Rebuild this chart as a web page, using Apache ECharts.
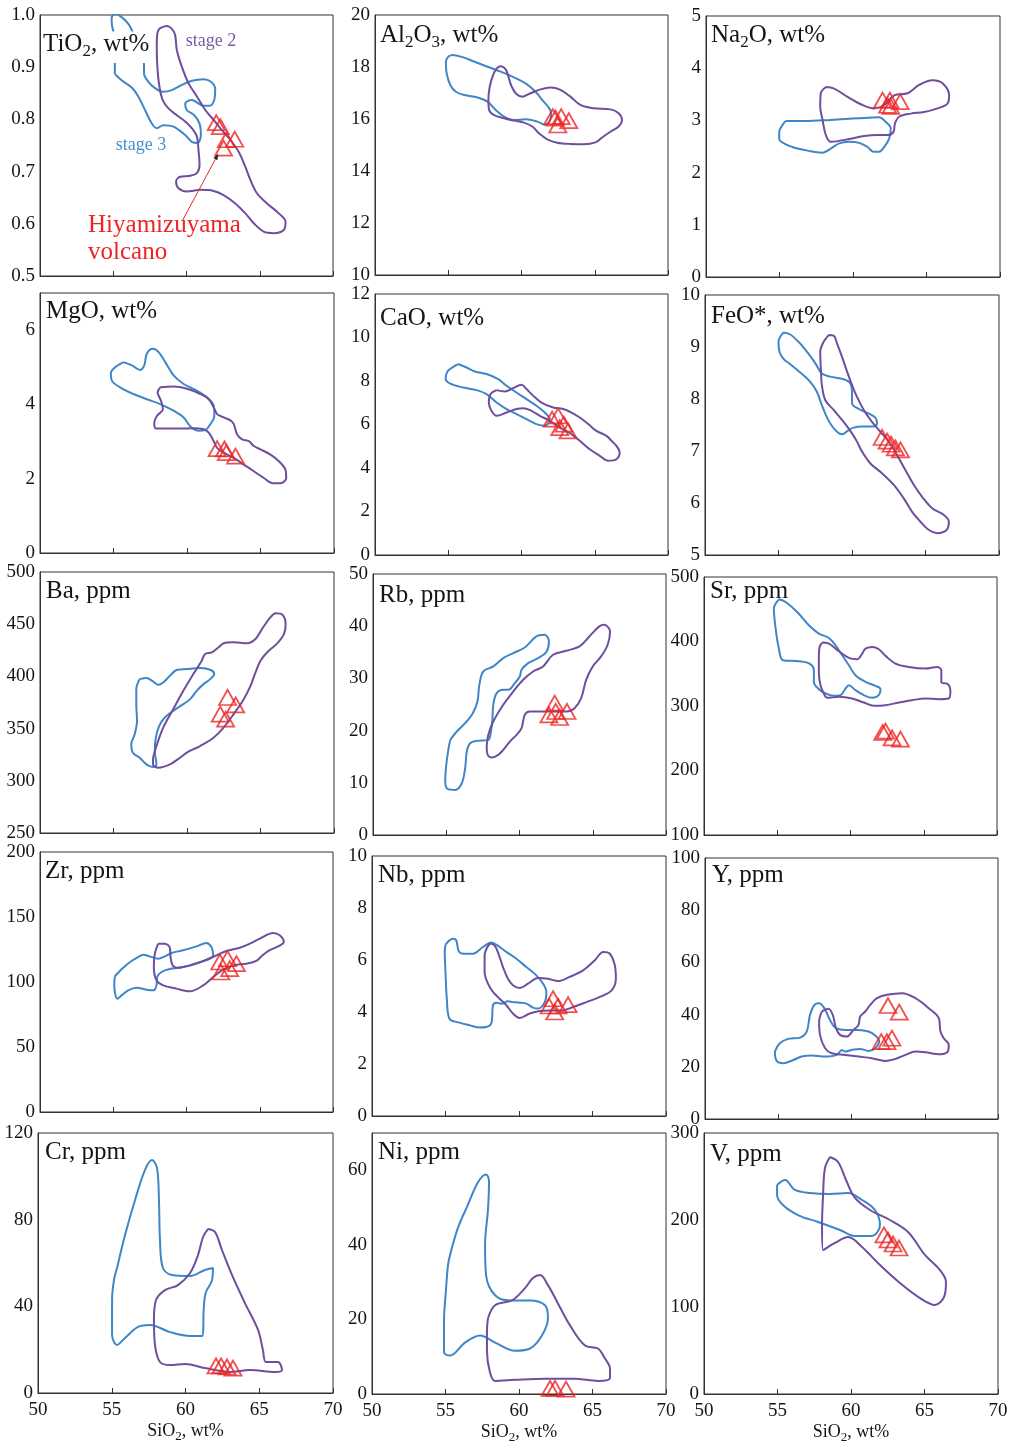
<!DOCTYPE html>
<html><head><meta charset="utf-8">
<script src="https://cdn.jsdelivr.net/npm/echarts@6/dist/echarts.min.js"></script>
<style>html,body{margin:0;padding:0;background:#fff}#c{width:1014px;height:1447px}</style>
</head><body><div id="c"></div>
<script>
// ---------------- DATA ----------------
const tio2Stage3 = [[55.11,0.887],[55.57,0.875],[56.26,0.861],[56.71,0.844],[57.17,0.818],[57.63,0.792],[57.97,0.783],[58.42,0.789],[59.11,0.786],[59.91,0.770],[60.37,0.757],[60.75,0.755],[60.98,0.770],[60.89,0.792],[60.53,0.808],[60.02,0.818],[59.91,0.830],[60.37,0.837],[61.16,0.826],[61.58,0.826],[61.89,0.837],[61.96,0.858],[61.67,0.872],[61.16,0.877],[60.37,0.874],[59.68,0.866],[59.00,0.856],[58.38,0.853],[57.85,0.860],[57.40,0.872],[57.10,0.888],[57.10,0.904],[56.83,0.933],[56.37,0.965],[56.03,0.983],[55.57,0.996],[55.11,1.003],[54.89,0.994],[54.91,0.981],[55.11,0.952],[55.11,0.907]];
const tio2Stage2 = [[58.15,0.974],[58.65,0.979],[58.99,0.974],[59.22,0.962],[59.34,0.933],[59.68,0.901],[60.14,0.869],[60.71,0.844],[61.28,0.818],[61.85,0.799],[62.31,0.783],[62.99,0.761],[63.56,0.738],[64.02,0.709],[64.36,0.684],[64.82,0.658],[65.50,0.639],[66.30,0.620],[66.76,0.604],[66.64,0.588],[65.96,0.582],[65.27,0.585],[64.59,0.601],[64.02,0.620],[63.33,0.639],[62.53,0.655],[61.85,0.663],[60.94,0.665],[60.02,0.662],[59.45,0.668],[59.29,0.681],[59.57,0.690],[60.25,0.692],[60.71,0.697],[60.89,0.713],[60.82,0.741],[60.71,0.767],[60.37,0.783],[59.91,0.796],[59.34,0.808],[58.77,0.821],[58.38,0.837],[58.15,0.863],[58.01,0.901],[57.97,0.939],[58.01,0.965]];
const tio2Hiya = [[62.03,0.794],[62.31,0.786],[63.29,0.762],[62.72,0.761],[62.53,0.745]];

const al2o3Stage3 = [[55.0,18.40],[55.29,18.46],[55.86,18.40],[56.77,18.21],[57.68,18.01],[58.58,17.82],[59.49,17.60],[60.28,17.37],[60.96,17.05],[61.42,16.73],[61.94,16.37],[62.03,16.15],[61.64,15.77],[61.08,15.90],[60.28,15.99],[59.49,15.96],[58.81,16.09],[58.24,16.35],[57.68,16.67],[57.00,16.83],[56.09,16.92],[55.52,17.05],[55.14,17.31],[54.89,17.76],[54.84,18.21]];
const al2o3Stage2 = [[58.58,18.04],[58.92,17.91],[59.10,17.65],[59.31,17.27],[59.65,16.96],[60.06,16.86],[60.62,16.99],[61.30,17.14],[61.98,17.21],[62.66,17.12],[63.34,16.86],[64.02,16.54],[64.93,16.41],[66.07,16.37],[66.63,16.22],[66.86,15.96],[66.63,15.71],[66.07,15.51],[65.50,15.29],[65.05,15.10],[64.25,15.03],[63.34,15.04],[62.44,15.09],[61.76,15.22],[61.19,15.45],[60.74,15.71],[60.17,15.86],[59.49,15.94],[58.81,16.03],[58.13,16.15],[57.79,16.35],[57.74,16.73],[57.83,17.24],[58.06,17.69],[58.31,17.95]];
const al2o3Hiya = [[62.14,16.09],[62.32,16.03],[62.71,16.09],[62.48,15.77],[63.23,15.94]];

const na2oStage3 = [[55.43,2.99],[56.68,2.99],[58.49,3.01],[60.31,3.04],[61.78,3.06],[62.23,2.97],[62.57,2.85],[62.46,2.65],[62.12,2.49],[61.78,2.40],[61.39,2.40],[60.99,2.49],[60.42,2.57],[59.74,2.59],[59.06,2.56],[58.49,2.46],[57.93,2.38],[57.13,2.41],[56.22,2.46],[55.43,2.54],[54.98,2.65],[54.98,2.78],[55.20,2.91]];
const na2oStage2 = [[58.15,3.64],[58.72,3.61],[59.63,3.45],[60.53,3.31],[61.44,3.23],[62.12,3.29],[62.80,3.48],[63.71,3.52],[64.50,3.68],[65.41,3.77],[66.09,3.71],[66.54,3.48],[66.43,3.32],[65.75,3.23],[64.84,3.16],[63.93,3.13],[63.14,3.07],[62.85,2.94],[62.76,2.78],[62.35,2.72],[61.67,2.72],[60.76,2.70],[59.85,2.65],[58.49,2.59],[58.15,2.72],[57.93,3.01],[57.77,3.26],[57.81,3.52]];
const na2oHiya = [[62.01,3.39],[62.51,3.39],[62.57,3.27],[63.21,3.36],[62.35,3.29]];

const mgoStage3 = [[55.68,5.14],[56.25,5.05],[56.82,4.93],[57.09,5.05],[57.27,5.37],[57.68,5.50],[58.07,5.41],[58.52,5.14],[59.09,4.78],[59.77,4.55],[60.57,4.39],[61.36,4.19],[61.82,3.96],[61.86,3.69],[61.59,3.47],[61.25,3.31],[60.80,3.29],[60.27,3.39],[59.77,3.65],[59.09,3.83],[58.18,4.01],[57.27,4.14],[56.36,4.28],[55.45,4.46],[54.89,4.64],[54.82,4.84],[55.11,5.00]];
const mgoStage2 = [[58.18,4.46],[59.09,4.48],[60.00,4.42],[60.91,4.28],[61.48,4.14],[61.82,3.92],[62.05,3.74],[62.50,3.65],[62.95,3.57],[63.18,3.47],[63.41,3.19],[63.75,3.06],[64.20,3.01],[64.55,2.88],[65.00,2.79],[65.68,2.65],[66.25,2.47],[66.70,2.24],[66.75,2.02],[66.36,1.88],[65.80,1.88],[65.23,2.02],[64.55,2.20],[63.86,2.38],[63.18,2.56],[62.50,2.70],[62.05,2.83],[61.82,3.01],[61.48,3.24],[61.14,3.33],[60.45,3.36],[59.55,3.35],[58.64,3.35],[57.91,3.35],[57.77,3.51],[57.95,3.69],[58.36,3.87],[58.23,4.10],[58.00,4.33]];
const mgoHiya = [[62.05,2.81],[62.55,2.80],[62.68,2.70],[63.30,2.61]];

const caoStage3 = [[55.68,8.78],[56.25,8.62],[56.82,8.44],[57.61,8.32],[58.41,8.09],[58.98,7.78],[59.66,7.47],[60.34,7.17],[61.02,6.86],[61.59,6.55],[61.93,6.25],[61.59,5.94],[61.02,6.02],[60.34,6.25],[59.66,6.48],[58.98,6.71],[58.30,7.01],[57.61,7.40],[56.93,7.58],[56.02,7.70],[55.11,7.89],[54.82,8.12],[54.95,8.44],[55.34,8.65]];
const caoStage2 = [[58.30,7.58],[58.86,7.52],[59.43,7.67],[60.00,7.83],[60.34,7.63],[60.80,7.32],[61.36,7.01],[62.16,6.78],[62.84,6.71],[63.41,6.55],[63.98,6.32],[64.55,6.02],[65.11,5.71],[65.80,5.48],[66.14,5.25],[66.48,5.02],[66.70,4.71],[66.48,4.40],[65.91,4.33],[65.34,4.56],[64.66,4.86],[63.98,5.25],[63.41,5.56],[62.61,5.86],[61.93,6.17],[61.25,6.40],[60.68,6.63],[60.11,6.75],[59.66,6.71],[58.98,6.55],[58.30,6.40],[57.95,6.63],[57.77,7.01],[57.89,7.40]];
const caoHiya = [[62.09,6.25],[62.50,6.40],[62.61,5.86],[62.89,6.02],[63.18,5.71]];

const feoStage3 = [[55.34,9.28],[55.80,9.24],[56.36,9.10],[56.93,8.91],[57.50,8.69],[57.95,8.49],[58.52,8.43],[59.43,8.38],[59.89,8.30],[60.00,8.11],[60.00,7.92],[60.45,7.81],[61.14,7.72],[61.59,7.64],[61.70,7.53],[61.48,7.47],[60.68,7.47],[60.11,7.45],[59.77,7.40],[59.32,7.32],[58.98,7.37],[58.52,7.53],[58.18,7.72],[57.95,7.88],[57.61,8.14],[57.16,8.33],[56.48,8.51],[55.80,8.67],[55.34,8.77],[55.07,8.91],[55.00,9.10]];
const feoStage2 = [[58.41,9.23],[58.75,9.22],[58.98,9.07],[59.32,8.81],[59.66,8.53],[60.00,8.27],[60.34,8.04],[60.80,7.79],[61.36,7.56],[61.93,7.37],[62.50,7.18],[63.07,6.92],[63.64,6.63],[64.20,6.35],[64.77,6.12],[65.45,5.90],[66.25,5.77],[66.59,5.64],[66.43,5.48],[65.80,5.42],[65.23,5.48],[64.66,5.64],[64.09,5.83],[63.52,6.09],[62.84,6.35],[61.93,6.60],[61.25,6.76],[60.68,6.99],[60.34,7.18],[60.00,7.34],[59.43,7.56],[58.75,7.79],[58.18,7.98],[57.95,8.27],[57.89,8.53],[57.84,8.91],[58.07,9.10]];
const feoHiya = [[62.05,7.26],[62.39,7.19],[62.66,7.13],[62.95,7.06],[63.30,7.02]];

const baStage3 = [[56.78,397.4],[57.24,398.4],[57.69,395.2],[58.04,392.0],[58.38,394.2],[58.84,400.6],[59.29,406.1],[59.98,407.1],[60.89,408.0],[61.62,406.1],[61.85,402.2],[61.58,397.4],[61.12,392.6],[60.66,386.2],[60.21,378.2],[59.75,373.4],[59.06,367.0],[58.49,360.6],[58.11,352.6],[57.88,341.3],[57.81,328.5],[57.92,315.7],[57.69,313.1],[57.24,315.7],[56.78,322.1],[56.32,326.9],[56.21,334.9],[56.44,344.6],[56.60,357.4],[56.55,373.4],[56.55,387.8]];
const baStage2 = [[57.69,322.1],[57.92,333.3],[58.38,351.0],[59.06,368.6],[59.75,386.2],[60.43,402.2],[61.00,415.1],[61.23,421.5],[61.69,423.1],[62.15,427.9],[62.49,431.7],[63.17,432.7],[64.09,431.7],[64.66,435.9],[65.11,445.5],[65.68,456.7],[66.03,460.6],[66.48,459.3],[66.71,450.3],[66.60,440.7],[66.14,431.7],[65.46,423.1],[65.00,415.1],[64.66,403.8],[64.32,391.0],[63.86,378.2],[63.17,363.8],[62.49,351.0],[61.80,341.3],[60.89,333.3],[60.09,327.9],[59.52,322.1],[58.84,315.7],[58.04,312.5],[57.69,315.7]];
const baHiya = [[62.76,379.8],[63.31,372.8],[62.26,363.8],[62.63,359.0]];

const rbStage3 = [[55.27,18.22],[55.72,19.82],[56.29,21.42],[56.81,23.34],[57.13,25.58],[57.26,28.77],[57.53,31.33],[58.21,32.29],[58.89,33.89],[59.57,34.85],[60.36,35.93],[61.15,38.04],[61.72,38.36],[62.01,37.08],[61.83,35.04],[61.27,33.89],[60.59,32.93],[60.14,31.65],[60.02,30.37],[59.68,29.09],[59.23,27.81],[58.89,27.81],[58.44,27.17],[58.21,24.94],[58.14,21.74],[57.99,18.86],[57.87,18.22],[57.08,18.03],[56.63,17.58],[56.40,15.98],[56.29,12.79],[56.06,9.91],[55.61,8.63],[55.09,8.82],[54.93,10.23],[55.00,13.43],[55.16,16.62]];
const rbStage2 = [[57.76,16.94],[57.87,19.18],[58.21,21.74],[58.89,24.94],[59.57,27.49],[60.25,29.73],[60.93,31.33],[61.61,32.29],[62.29,34.53],[63.19,35.29],[64.10,36.13],[64.77,38.04],[65.45,39.96],[65.79,40.28],[66.18,39.00],[66.02,36.45],[65.57,34.21],[65.00,32.29],[64.55,29.73],[64.21,26.21],[63.76,24.30],[63.19,23.66],[62.51,23.66],[61.72,23.66],[60.70,23.66],[60.36,23.02],[60.14,20.46],[59.80,19.18],[59.34,17.90],[58.89,16.30],[58.55,15.35],[58.10,14.83],[57.81,15.47]];
const rbHiya = [[62.40,25.26],[62.01,23.02],[62.47,23.66],[62.74,22.51],[63.24,23.66]];

const srStage3 = [[55.11,465.4],[55.57,461.3],[56.36,445.8],[57.16,425.2],[57.84,412.3],[58.52,405.5],[58.98,394.2],[59.43,378.7],[59.89,363.2],[60.34,347.7],[61.02,337.4],[61.70,331.2],[62.05,326.1],[61.93,316.8],[61.48,312.6],[60.91,316.8],[60.34,324.5],[59.89,332.3],[59.66,327.1],[59.32,316.8],[58.86,315.7],[58.30,319.4],[57.84,326.1],[57.50,337.4],[57.50,355.5],[57.20,365.8],[56.48,369.4],[55.39,371.0],[55.11,389.0],[54.89,420.0],[54.77,451.0]];
const srStage2 = [[58.07,398.3],[58.52,396.8],[59.20,384.9],[59.89,374.6],[60.45,372.5],[60.80,381.3],[61.02,389.0],[61.48,391.6],[61.93,388.0],[62.39,377.7],[63.07,365.8],[63.98,360.6],[65.11,358.1],[65.91,360.6],[66.20,355.5],[66.20,337.4],[66.66,333.8],[66.82,324.5],[66.70,311.6],[66.02,310.6],[65.11,311.6],[64.20,309.0],[63.30,305.4],[62.39,301.3],[61.59,300.3],[60.91,305.4],[60.11,311.6],[59.20,314.2],[58.41,312.6],[58.18,319.4],[57.95,332.3],[57.84,352.9],[57.84,376.1],[57.89,391.6]];
const srHiya = [[62.20,258.9],[62.39,261.0],[62.84,250.7],[63.41,248.6]];

const zrStage3 = [[55.11,104.4],[55.68,111.0],[56.25,116.2],[56.70,119.2],[57.05,121.0],[57.50,119.7],[58.07,117.9],[58.52,119.7],[58.98,122.3],[59.77,124.4],[60.68,127.4],[61.36,130.0],[61.70,126.9],[61.82,120.5],[61.48,117.2],[60.91,115.4],[60.23,112.8],[59.55,111.0],[58.86,110.0],[58.30,107.7],[58.00,103.8],[57.95,97.4],[57.77,93.6],[57.27,94.1],[56.59,95.6],[56.02,93.6],[55.57,89.7],[55.27,87.2],[55.11,92.3],[55.07,98.7]];
const zrStage2 = [[58.07,129.5],[58.52,129.5],[58.86,126.4],[58.91,119.2],[59.05,112.8],[59.32,111.0],[60.00,112.1],[60.68,114.1],[61.36,117.2],[62.05,120.5],[62.73,123.8],[63.64,126.4],[64.32,129.5],[65.00,133.3],[65.91,137.7],[66.36,135.9],[66.64,130.8],[66.25,127.4],[65.57,123.8],[65.11,119.7],[64.77,116.2],[64.09,114.1],[63.18,112.8],[62.50,109.5],[61.82,103.8],[61.14,97.4],[60.23,92.8],[59.32,94.9],[58.41,97.4],[57.95,101.3],[57.77,111.5],[57.84,121.8]];
const zrHiya = [[62.27,115.4],[62.80,117.9],[63.41,114.1],[62.34,107.7],[62.95,110.3]];

const nbStage3 = [[55.00,6.59],[55.50,6.82],[55.73,6.76],[55.91,6.33],[56.30,6.24],[56.86,6.24],[57.55,6.50],[58.11,6.67],[58.45,6.59],[59.14,6.31],[59.82,6.05],[60.50,5.73],[61.18,5.41],[61.64,5.09],[61.86,4.77],[61.75,4.38],[61.30,4.13],[60.95,4.17],[60.50,4.32],[60.05,4.36],[59.59,4.38],[59.25,4.41],[58.80,4.32],[58.45,4.36],[58.23,4.26],[58.18,3.87],[58.11,3.55],[57.77,3.42],[57.32,3.40],[56.64,3.49],[55.95,3.59],[55.27,3.74],[55.09,4.51],[55.00,5.54],[54.95,6.31]];
const nbStage2 = [[58.00,6.63],[58.34,6.56],[58.64,6.18],[58.91,5.73],[59.25,5.28],[59.59,5.03],[60.05,4.92],[60.61,5.09],[61.30,5.31],[61.98,5.28],[62.66,5.19],[63.45,5.35],[64.36,5.60],[65.16,5.99],[65.73,6.31],[66.18,6.24],[66.52,5.79],[66.59,5.28],[66.30,4.83],[65.50,4.58],[64.59,4.38],[63.68,4.19],[62.89,4.06],[62.09,4.06],[61.41,4.04],[60.73,3.94],[60.05,3.77],[59.59,3.94],[59.14,4.26],[58.68,4.51],[58.23,4.77],[57.89,5.09],[57.66,5.54],[57.66,6.18]];
const nbHiya = [[62.32,4.51],[62.05,4.23],[62.66,4.23],[63.34,4.28],[62.43,4.00]];

const yStage3 = [[54.77,25.83],[55.11,29.03],[55.68,30.69],[56.48,31.20],[56.94,33.50],[57.17,39.90],[57.47,43.73],[57.79,44.37],[58.15,42.46],[58.47,38.62],[58.88,35.04],[59.57,34.14],[60.48,34.14],[61.16,33.50],[61.62,31.97],[61.89,29.67],[61.62,27.11],[61.16,26.09],[60.59,26.85],[60.02,26.47],[59.57,25.83],[59.34,26.47],[59.00,24.55],[58.20,23.91],[57.28,24.30],[56.60,23.91],[56.03,22.63],[55.34,21.36],[54.89,22.25]];
const yStage2 = [[57.97,41.18],[58.42,42.20],[58.72,39.90],[58.93,35.04],[59.22,32.23],[59.68,31.59],[60.14,34.14],[60.48,36.06],[60.59,39.26],[60.94,41.18],[61.28,43.73],[61.74,46.29],[62.42,47.57],[63.45,48.21],[64.36,46.29],[65.27,42.46],[65.96,38.62],[66.07,33.50],[66.30,30.95],[66.64,28.39],[66.53,25.58],[65.96,24.81],[65.05,25.58],[64.36,25.83],[63.68,24.55],[62.99,23.02],[62.31,22.25],[61.39,23.27],[60.48,23.91],[59.57,24.55],[58.65,25.19],[58.20,27.11],[57.85,32.23],[57.79,37.34]];
const yHiya = [[62.49,43.48],[63.26,40.92],[62.03,29.67],[62.42,29.67],[62.76,30.95]];

const crStage3 = [[55.36,57.7],[55.90,72.9],[56.58,89.1],[57.25,102.9],[57.73,107.5],[58.07,103.8],[58.20,89.1],[58.27,70.6],[58.47,57.7],[59.08,54.5],[60.31,54.0],[61.32,56.8],[61.86,57.7],[61.80,52.1],[61.39,46.6],[61.25,40.6],[61.12,26.3],[60.31,26.3],[58.95,28.1],[57.59,31.4],[56.78,30.5],[55.90,25.4],[55.36,22.2],[55.02,26.8],[55.02,42.9],[55.15,52.1]];
const crStage2 = [[61.53,75.7],[62.00,74.3],[62.47,66.0],[63.15,54.5],[64.03,41.5],[64.92,29.1],[65.25,19.8],[65.46,14.3],[66.27,14.3],[66.54,10.6],[66.07,9.7],[64.37,10.6],[63.02,9.7],[61.32,11.5],[59.97,13.4],[58.95,12.9],[58.27,14.3],[57.93,22.2],[57.86,33.7],[58.00,42.9],[58.61,47.5],[59.49,49.8],[60.31,55.4],[60.85,63.7],[61.19,72.0]];
const crHiya = [[62.07,12.5],[62.41,12.5],[62.81,12.0],[63.22,11.5]];

const niStage3 = [[55.31,37.3],[55.85,44.6],[56.53,50.8],[57.21,56.8],[57.76,58.9],[57.96,57.0],[57.89,49.5],[57.69,40.0],[57.76,31.9],[58.37,26.5],[59.39,25.1],[60.75,25.1],[61.77,23.8],[61.97,20.3],[61.56,15.7],[60.75,12.2],[59.73,11.6],[58.37,13.8],[57.35,15.7],[56.33,13.8],[55.31,10.3],[54.90,11.1],[54.90,19.7],[55.03,27.8],[55.17,34.6]];
const niStage2 = [[57.89,20.3],[58.37,23.8],[59.52,25.1],[60.41,28.4],[60.95,31.1],[61.43,31.9],[61.97,29.2],[62.65,24.3],[63.47,18.4],[64.49,13.0],[65.37,12.2],[65.85,9.5],[66.19,6.8],[66.19,4.3],[65.37,3.5],[63.81,4.1],[61.77,4.1],[59.73,3.8],[58.37,3.5],[58.03,5.7],[57.82,11.6],[57.82,17.0]];
const niHiya = [[62.11,1.5],[62.45,1.5],[63.20,1.3]];

const vStage3 = [[54.97,240.2],[55.51,246.0],[56.19,234.5],[57.21,231.0],[58.57,229.9],[59.80,231.0],[60.75,223.0],[61.63,211.5],[61.97,194.3],[61.43,181.6],[60.27,181.6],[59.25,188.5],[57.76,197.7],[56.39,205.7],[55.37,217.2],[54.97,228.7]];
const vStage2 = [[58.57,272.4],[59.12,266.7],[59.66,246.0],[60.27,225.3],[61.29,211.5],[62.65,200.0],[63.88,186.2],[65.03,159.8],[66.05,142.5],[66.46,128.7],[66.33,111.5],[65.71,102.3],[64.69,110.3],[63.33,127.6],[61.97,148.3],[60.75,169.0],[59.80,180.5],[58.91,173.6],[58.10,165.5],[58.03,194.3],[58.10,228.7],[58.23,259.8]];
const vHiya = [[62.24,182.8],[62.52,177.0],[62.86,172.4],[63.27,167.8]];

// axes / labels
const panelTitles = ['{n|TiO}{s|2}{n|, wt%}','{n|Al}{s|2}{n|O}{s|3}{n|, wt%}','{n|Na}{s|2}{n|O, wt%}',
  '{n|MgO, wt%}','{n|CaO, wt%}','{n|FeO*, wt%}','{n|Ba, ppm}','{n|Rb, ppm}','{n|Sr, ppm}',
  '{n|Zr, ppm}','{n|Nb, ppm}','{n|Y, ppm}','{n|Cr, ppm}','{n|Ni, ppm}','{n|V, ppm}'];
const yMin  = [0.5, 10, 0, 0, 0, 5, 250, 0, 100, 0, 0, 0, 0, 0, 0];
const yMax  = [1.0, 20, 5, 7, 12, 10, 500, 50, 500, 200, 10, 100, 120, 70, 300];
const yStep = [0.1, 2, 1, 2, 2, 1, 50, 10, 100, 50, 2, 20, 40, 20, 100];
const yDecimals = [1,0,0,0,0,0,0,0,0,0,0,0,0,0,0];
const xMin = 50, xMax = 70, xStep = 5;
const xName = '{n|SiO}{s|2}{n|, wt%}';
const annotations = {stage2: 'stage 2', stage3: 'stage 3', hv1: 'Hiyamizuyama', hv2: 'volcano'};

const stage2Sets = [tio2Stage2, al2o3Stage2, na2oStage2, mgoStage2, caoStage2, feoStage2, baStage2, rbStage2, srStage2, zrStage2, nbStage2, yStage2, crStage2, niStage2, vStage2];
const stage3Sets = [tio2Stage3, al2o3Stage3, na2oStage3, mgoStage3, caoStage3, feoStage3, baStage3, rbStage3, srStage3, zrStage3, nbStage3, yStage3, crStage3, niStage3, vStage3];
const hiyaSets = [tio2Hiya, al2o3Hiya, na2oHiya, mgoHiya, caoHiya, feoHiya, baHiya, rbHiya, srHiya, zrHiya, nbHiya, yHiya, crHiya, niHiya, vHiya];

// ---------------- LAYOUT / STYLE ----------------
const FONT = 'Liberation Serif';
const PURPLE = '#6e4e9e', BLUE = '#3e86c8', RED = '#ee2424', AX = '#333', TXT = '#151515';
const gridRects = [
  [40,15,293,261],[375,15,293,260],[706,16,294,261],
  [40,293,294,260],[375,294,293,261],[705,295,294,260],
  [40,572,294,261],[373,574,293,261],[704,577,293,258],
  [40,852,293,260],[372,856,294,260],[705,858,293,261],
  [38,1133,295,260],[372,1133,294,261],[704,1133,294,261]];
const titleLeft = [42,380,711,46,380,711,46,379,710,45,378,712,45,378,710];
const titleTop  = [29,20,20,296,303,301,576,580,576,856,860,860,1137,1137,1139];

const chart = echarts.init(document.getElementById('c'), null, {renderer: 'canvas'});
const closeLoop = a => a.concat([a[0]]);
const grids = [], xAxes = [], yAxes = [], series = [], titles = [];
for (let i = 0; i < 15; i++) {
  const r = gridRects[i], bottomRow = i >= 12;
  grids.push({left: r[0], top: r[1], width: r[2], height: r[3], show: true, borderColor: AX, borderWidth: 1,
    backgroundColor: 'transparent', containLabel: false, outerBoundsMode: 'none'});
  xAxes.push({gridIndex: i, type: 'value', min: xMin, max: xMax, interval: xStep,
    axisLine: {show: true, onZero: false, lineStyle: {color: AX, width: 1}},
    axisTick: {show: true, inside: true, length: 5, lineStyle: {color: AX, width: 1}},
    splitLine: {show: false},
    axisLabel: {show: bottomRow, fontFamily: FONT, fontSize: 19, color: TXT, margin: 8, showMinLabel: true, showMaxLabel: true},
    name: bottomRow ? xName : '', nameLocation: 'middle', nameGap: 26,
    nameTextStyle: {fontFamily: FONT, color: TXT, rich: {
      n: {fontFamily: FONT, fontSize: 18, lineHeight: 24, color: TXT},
      s: {fontFamily: FONT, fontSize: 13, lineHeight: 13, verticalAlign: 'bottom', color: TXT}}}
  });
  const step = yStep[i], dec = yDecimals[i];
  yAxes.push({gridIndex: i, type: 'value', min: yMin[i], max: yMax[i], interval: step,
    axisLine: {show: true, onZero: false, lineStyle: {color: AX, width: 1}},
    axisTick: {show: false}, splitLine: {show: false},
    axisLabel: {fontFamily: FONT, fontSize: 19, color: TXT, margin: 5, showMinLabel: true, showMaxLabel: true,
      formatter: v => { const k = (v - yMin[i]) / step; return Math.abs(k - Math.round(k)) < 1e-6 ? Number(v).toFixed(dec) : ''; }}
  });
  series.push({type: 'line', xAxisIndex: i, yAxisIndex: i, data: closeLoop(stage3Sets[i]), smooth: 0.35,
    showSymbol: false, symbol: 'none', clip: true, lineStyle: {color: BLUE, width: 2}, silent: true, z: 2});
  series.push({type: 'line', xAxisIndex: i, yAxisIndex: i, data: closeLoop(stage2Sets[i]), smooth: 0.35,
    showSymbol: false, symbol: 'none', clip: true, lineStyle: {color: PURPLE, width: 2}, silent: true, z: 3});
  series.push({type: 'scatter', xAxisIndex: i, yAxisIndex: i, data: hiyaSets[i], symbol: 'triangle', symbolSize: [17, 15],
    itemStyle: {color: 'rgba(255,255,255,0)', borderColor: RED, borderWidth: 1.8}, silent: true, z: 4});
  titles.push({text: panelTitles[i], left: titleLeft[i], top: titleTop[i] - 1,
    padding: i === 0 ? [0, 3, 3, 1] : 0, backgroundColor: i === 0 ? '#fff' : 'transparent',
    textStyle: {fontFamily: FONT, fontWeight: 'normal', color: TXT, rich: {
      n: {fontFamily: FONT, fontSize: 25, lineHeight: 32, color: TXT},
      s: {fontFamily: FONT, fontSize: 17, lineHeight: 17, verticalAlign: 'bottom', color: TXT}}}});
}
chart.setOption({animation: false, backgroundColor: '#fff', title: titles, grid: grids, xAxis: xAxes, yAxis: yAxes, series: series});

// annotations in the TiO2 panel, positioned in data coordinates
const P = p => chart.convertToPixel({gridIndex: 0}, p);
const a2 = P([61.67, 0.950]), a3 = P([56.89, 0.751]), h1 = P([53.28, 0.597]), h2 = P([53.28, 0.545]);
const arS = P([59.74, 0.607]), arE = P([62.17, 0.734]);
const dx = arE[0] - arS[0], dy = arE[1] - arS[1], len = Math.hypot(dx, dy), ux = dx / len, uy = dy / len;
const bx = arE[0] - ux * 6, by = arE[1] - uy * 6;
chart.setOption({graphic: [
  {type: 'text', x: a2[0], y: a2[1], z: 10, style: {text: annotations.stage2, fill: '#7a5aa8', font: '18px "Liberation Serif"', align: 'center', verticalAlign: 'middle'}},
  {type: 'text', x: a3[0], y: a3[1], z: 10, style: {text: annotations.stage3, fill: '#4a8dcc', font: '18px "Liberation Serif"', align: 'center', verticalAlign: 'middle'}},
  {type: 'text', x: h1[0], y: h1[1], z: 10, style: {text: annotations.hv1, fill: RED, font: '25px "Liberation Serif"', align: 'left', verticalAlign: 'middle'}},
  {type: 'text', x: h2[0], y: h2[1], z: 10, style: {text: annotations.hv2, fill: RED, font: '25px "Liberation Serif"', align: 'left', verticalAlign: 'middle'}},
  {type: 'line', z: 10, shape: {x1: arS[0], y1: arS[1], x2: bx, y2: by}, style: {stroke: RED, lineWidth: 1}},
  {type: 'polygon', z: 10, shape: {points: [[arE[0], arE[1]], [bx - uy * 2.2, by + ux * 2.2], [bx + uy * 2.2, by - ux * 2.2]]}, style: {fill: '#222'}}
]});
</script></body></html>
